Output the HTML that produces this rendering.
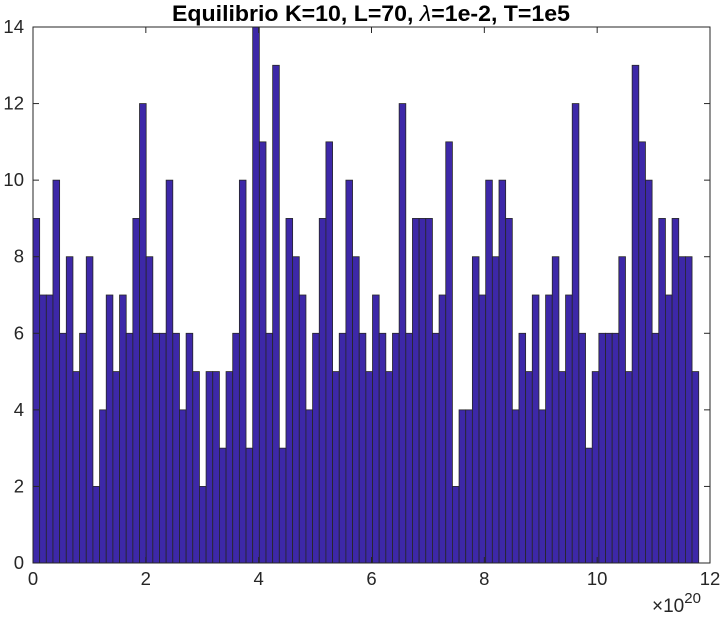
<!DOCTYPE html>
<html><head><meta charset="utf-8"><style>
body{margin:0;background:#fff}
svg text{font-family:"Liberation Sans",sans-serif;fill:#262626}
</style></head><body>
<svg id="chart" width="724" height="619" xmlns="http://www.w3.org/2000/svg">
<rect width="724" height="619" fill="#fff"/>
<text x="371" y="21" text-anchor="middle" font-size="22" font-weight="bold" textLength="398" lengthAdjust="spacingAndGlyphs" style="fill:#000">Equilibrio K=10, L=70, <tspan font-style="italic" font-weight="normal">λ</tspan>=1e-2, T=1e5</text>
<g id="bars"></g>
<g id="axes"></g>
</svg>
<script>
const counts=[9,7,7,10,6,8,5,6,8,2,4,7,5,7,6,9,12,8,6,6,10,6,4,6,5,2,5,5,3,5,6,10,3,
14,11,6,13,3,9,8,7,4,6,9,11,5,6,10,8,6,5,7,6,5,6,12,6,9,9,9,6,7,11,2,4,4,8,
7,10,8,10,9,4,6,5,7,4,7,8,5,7,12,6,3,5,6,6,6,8,5,13,11,10,6,9,7,9,8,8,5];
const binStart=0, binWidth=0.118;
const xTicks=[0,2,4,6,8,10,12];
const yTicks=[0,2,4,6,8,10,12,14];
const L=33,R=710,T=27,B=563;
const xs=v=>L+(v-0)/12*(R-L);
const ys=v=>B-v/14*(B-T);
const NS='http://www.w3.org/2000/svg';
const bars=document.getElementById('bars'),axes=document.getElementById('axes');
function mk(tag,attrs,parent){const e=document.createElementNS(NS,tag);for(const k in attrs)e.setAttribute(k,attrs[k]);parent.appendChild(e);return e;}
counts.forEach((c,i)=>{
 const x0=xs(binStart+i*binWidth),x1=xs(binStart+(i+1)*binWidth);
 const r=mk('rect',{x:x0,y:ys(c),width:x1-x0,height:ys(0)-ys(c),fill:'#3d28a8',stroke:'#262626','stroke-width':0.8},bars);
 
 
});
const box=mk('rect',{x:L,y:T,width:R-L,height:B-T,fill:'none',stroke:'#262626','stroke-width':1},axes);


xTicks.forEach(v=>{
 const x=xs(v);
 mk('line',{x1:x,x2:x,y1:B,y2:B-6,stroke:'#262626'},axes);
 mk('line',{x1:x,x2:x,y1:T,y2:T+6,stroke:'#262626'},axes);
 const t=mk('text',{x:x,y:B+22,'text-anchor':'middle','font-size':18.5},axes);
 t.textContent=v;
 
 
});
yTicks.forEach(v=>{
 const y=ys(v);
 mk('line',{x1:L,x2:L+6,y1:y,y2:y,stroke:'#262626'},axes);
 mk('line',{x1:R,x2:R-6,y1:y,y2:y,stroke:'#262626'},axes);
 const t=mk('text',{x:L-9,y:y+6,'text-anchor':'end','font-size':18.5},axes);
 t.textContent=v;
 
 
});
const ex=mk('text',{x:652,y:612,'font-size':19},axes);
ex.innerHTML='×10<tspan dy="-9" font-size="15">20</tspan>';


</script>
</body></html>
